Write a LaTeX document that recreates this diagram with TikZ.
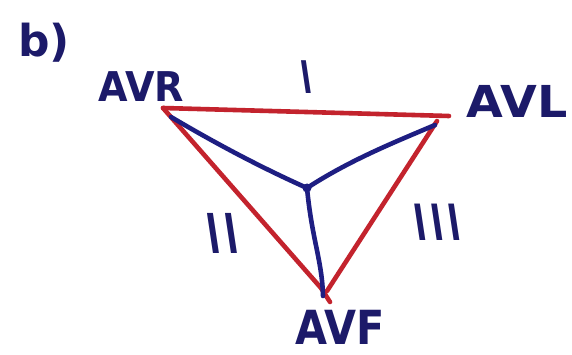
\documentclass[tikz,border=0pt]{standalone}
\usepackage{fontspec}
\setmainfont{DejaVu Sans}
\definecolor{ink}{RGB}{28,26,105}
\definecolor{redink}{RGB}{195,35,45}
\definecolor{blueink}{RGB}{30,30,130}
\begin{document}
\begin{tikzpicture}[x=1pt,y=-1pt,
  redline/.style={draw=redink,line width=4.6pt,line cap=round,line join=round},
  blueline/.style={draw=blueink,line width=4.6pt,line cap=round,line join=round},
  lbl/.style={text=ink,inner sep=0pt,anchor=center}]
\useasboundingbox (0,0) rectangle (572,355);
\fill[white] (0,0) rectangle (572,355);
% vertices
\coordinate (vr) at (163,108);
\coordinate (vrend) at (449,116);
\coordinate (vl) at (437,121);
\coordinate (vf) at (330,302);
\coordinate (ctr) at (307,188);
\coordinate (br) at (171,117);
\coordinate (bl) at (435,125);
\coordinate (bf) at (323,296);
% red triangle
\draw[redline] (vr) -- (vrend);
\draw[redline] (vl) -- (327,291);
\draw[redline] (vr) -- (321,288) -- (vf);
% blue star
\draw[blueline] (br) .. controls (215,143) and (260,167) .. (ctr);
\draw[blueline] (bl) .. controls (395,142) and (350,160) .. (ctr);
\draw[blueline] (ctr) .. controls (312,240) and (322,260) .. (bf);
\fill[blueink] (ctr) circle (4.5pt);
% labels
\node[lbl,font=\bfseries\fontsize{44}{44}\selectfont] (b) at (44,43) {b)};
\node[lbl,font=\bfseries\fontsize{41}{41}\selectfont,xscale=0.93] (avr) at (141,87) {AVR};
\node[lbl,font=\fontsize{45}{45}\selectfont,xslant=-0.15,xscale=1.1] (one) at (306,77) {I};
\node[lbl,font=\bfseries\fontsize{44}{44}\selectfont,xscale=1.08] (avl) at (517,101) {AVL};
\node[lbl,font=\fontsize{55}{55}\selectfont,xslant=-0.15,xscale=1.1] (two) at (222,233) {II};
\node[lbl,font=\fontsize{50}{50}\selectfont,xslant=-0.15,xscale=1.15] (three) at (437,222) {III};
\node[lbl,font=\bfseries\fontsize{47}{47}\selectfont,xscale=0.88] (avf) at (340,327) {AVF};
\end{tikzpicture}
\end{document}
